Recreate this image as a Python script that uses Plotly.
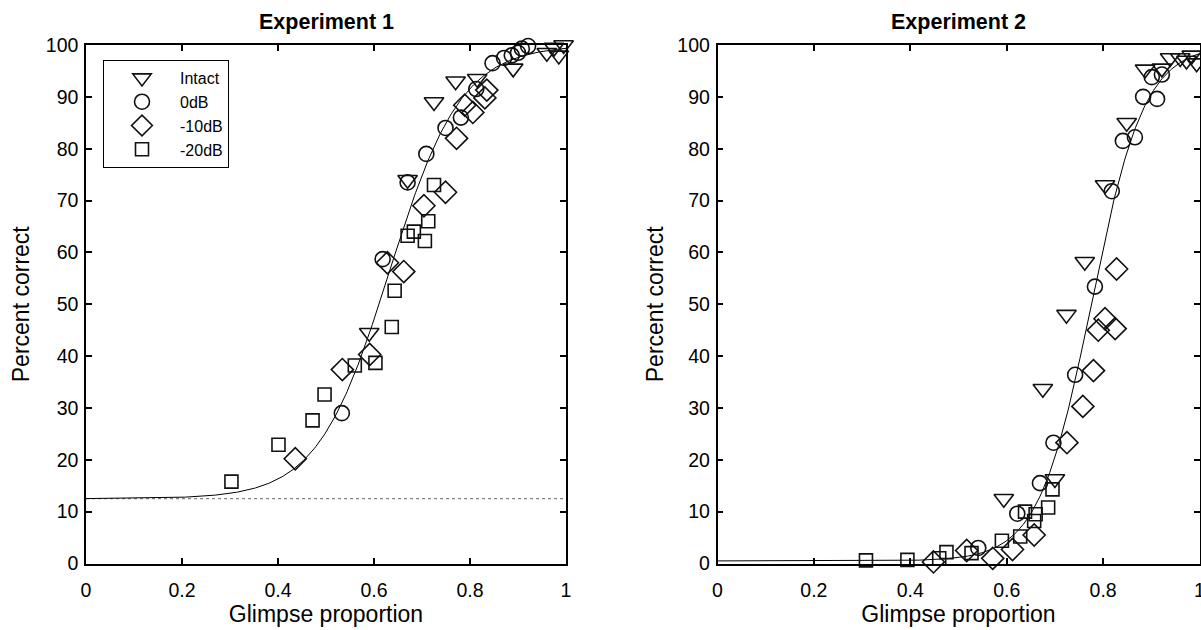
import numpy as np
import plotly.graph_objects as go

# ---------------- data ----------------
# Experiment 1
e1_intact_x = [0.59, 0.67, 0.725, 0.77, 0.815, 0.89, 0.96, 0.975, 0.985, 0.995]
e1_intact_y = [44.5, 74, 89, 93, 93.5, 95.5, 98.5, 99.5, 98, 100]
e1_0db_x = [0.533, 0.618, 0.67, 0.709, 0.749, 0.781, 0.813, 0.847, 0.871, 0.887, 0.9, 0.908, 0.921]
e1_0db_y = [29, 58.7, 73.5, 79, 84, 86, 91.5, 96.5, 97.5, 98, 98.5, 99.3, 99.8]
e1_10db_x = [0.436, 0.534, 0.591, 0.628, 0.662, 0.704, 0.749, 0.772, 0.789, 0.806, 0.831, 0.835]
e1_10db_y = [20.2, 37.4, 40.3, 58, 56.3, 69, 71.6, 82, 88.4, 87, 89.8, 91.3]
e1_20db_x = [0.303, 0.401, 0.472, 0.497, 0.56, 0.603, 0.637, 0.643, 0.67, 0.683, 0.706, 0.713, 0.725]
e1_20db_y = [15.8, 22.9, 27.6, 32.6, 38.2, 38.7, 45.6, 52.6, 63.2, 64, 62.2, 66, 73]

# Experiment 2
e2_intact_x = [0.594, 0.675, 0.70, 0.724, 0.762, 0.804, 0.849, 0.887, 0.922, 0.939, 0.96, 0.973, 0.984, 0.994]
e2_intact_y = [12.5, 33.7, 16.3, 48, 58.2, 73, 85, 95.3, 95.5, 97.5, 97.5, 97, 98, 96.5]
e2_0db_x = [0.541, 0.622, 0.669, 0.697, 0.742, 0.783, 0.818, 0.841, 0.866, 0.883, 0.901, 0.912, 0.922]
e2_0db_y = [3.0, 9.6, 15.5, 23.3, 36.4, 53.4, 71.8, 81.5, 82.2, 90, 93.8, 89.6, 94.3]
e2_10db_x = [0.448, 0.517, 0.571, 0.612, 0.657, 0.725, 0.758, 0.78, 0.79, 0.804, 0.825, 0.828]
e2_10db_y = [0.3, 2.5, 1.0, 2.7, 5.5, 23.3, 30.3, 37.2, 45, 47.2, 45.3, 56.8]
e2_20db_x = [0.308, 0.394, 0.46, 0.475, 0.527, 0.59, 0.628, 0.638, 0.657, 0.66, 0.686, 0.695]
e2_20db_y = [0.6, 0.7, 1.0, 2.2, 2.0, 4.4, 5.2, 10.0, 8.2, 9.5, 10.8, 14.3]

# logistic fit parameters: lower, upper, midpoint, slope
fit1 = [12.5, 100, 0.632, 0.075]
fit2 = [0.5, 100, 0.776, 0.055]
chance1 = 12.5

x_ticks = [0, 0.2, 0.4, 0.6, 0.8, 1]
x_tick_labels = ["0", "0.2", "0.4", "0.6", "0.8", "1"]
y_ticks = [0, 10, 20, 30, 40, 50, 60, 70, 80, 90, 100]

series_names = ["Intact", "0dB", "-10dB", "-20dB"]
symbols = ["triangle-down-open", "circle-open", "diamond-open", "square-open"]
sizes = [17, 15, 17, 13]

W, H = 1201, 630
FONT = "Liberation Sans, Arial, Helvetica, sans-serif"

fig = go.Figure()

def logistic(x, p):
    lo, hi, x0, s = p
    return lo + (hi - lo) / (1 + np.exp(-(x - x0) / s))

xx = np.linspace(0, 1, 400)

fig.add_trace(go.Scatter(x=[0, 1], y=[chance1, chance1], mode="lines",
                         line=dict(color="#666666", width=1, dash="dot"),
                         showlegend=False, hoverinfo="skip", xaxis="x", yaxis="y"))
fig.add_trace(go.Scatter(x=xx, y=logistic(xx, fit1), mode="lines",
                         line=dict(color="black", width=1),
                         showlegend=False, hoverinfo="skip", xaxis="x", yaxis="y"))
fig.add_trace(go.Scatter(x=xx, y=logistic(xx, fit2), mode="lines",
                         line=dict(color="black", width=1),
                         showlegend=False, hoverinfo="skip", xaxis="x2", yaxis="y2"))

e1 = [(e1_intact_x, e1_intact_y), (e1_0db_x, e1_0db_y), (e1_10db_x, e1_10db_y), (e1_20db_x, e1_20db_y)]
e2 = [(e2_intact_x, e2_intact_y), (e2_0db_x, e2_0db_y), (e2_10db_x, e2_10db_y), (e2_20db_x, e2_20db_y)]

for i, (xs, ys) in enumerate(e1):
    fig.add_trace(go.Scatter(x=xs, y=ys, mode="markers", name=series_names[i],
                             marker=dict(symbol=symbols[i], size=sizes[i], color="#111111",
                                         line=dict(width=1.6, color="#111111")),
                             cliponaxis=False, xaxis="x", yaxis="y"))
for i, (xs, ys) in enumerate(e2):
    fig.add_trace(go.Scatter(x=xs, y=ys, mode="markers", name=series_names[i],
                             marker=dict(symbol=symbols[i], size=sizes[i], color="#111111",
                                         line=dict(width=1.6, color="#111111")),
                             cliponaxis=False, showlegend=False, xaxis="x2", yaxis="y2"))

ydom = [1 - 563.5 / H, 1 - 45 / H]
axis_common = dict(showgrid=False, zeroline=False, showline=True, linecolor="black",
                   linewidth=1.5, mirror="ticks", ticks="inside", ticklen=6,
                   tickwidth=1.5, tickcolor="black", automargin=False,
                   ticklabeloverflow="allow",
                   tickfont=dict(family=FONT, size=19.5, color="black"))

fig.update_layout(
    width=W, height=H,
    margin=dict(l=0, r=0, t=0, b=0, autoexpand=False),
    paper_bgcolor="white", plot_bgcolor="white",
    font=dict(family=FONT, color="black"),
    xaxis=dict(domain=[86 / W, 566 / W], range=[0, 1], tickvals=x_ticks,
               ticktext=x_tick_labels, anchor="y", ticklabelstandoff=8,
               title=dict(text="Glimpse proportion", font=dict(size=23), standoff=6),
               **axis_common),
    yaxis=dict(domain=ydom, range=[0, 100], tickvals=y_ticks, anchor="x",
               ticklabelstandoff=2,
               title=dict(text="Percent correct", font=dict(size=23), standoff=10),
               **axis_common),
    xaxis2=dict(domain=[717.5 / W, 1199.5 / W], range=[0, 1], tickvals=x_ticks,
                ticktext=x_tick_labels, anchor="y2", ticklabelstandoff=8,
                title=dict(text="Glimpse proportion", font=dict(size=23), standoff=6),
                **axis_common),
    yaxis2=dict(domain=ydom, range=[0, 100], tickvals=y_ticks, anchor="x2",
                ticklabelstandoff=2,
                title=dict(text="Percent correct", font=dict(size=23), standoff=7),
                **axis_common),
    legend=dict(x=103 / W, y=1 - 60 / H, xanchor="left", yanchor="top",
                bordercolor="black", borderwidth=1, bgcolor="white",
                font=dict(family=FONT, size=16, color="black"),
                tracegroupgap=0, itemwidth=66),
    annotations=[
        dict(text="<b>Experiment 1</b>", x=(86 + 566) / 2 / W, y=1 - 22 / H,
             xref="paper", yref="paper", showarrow=False, yanchor="middle", xanchor="center",
             font=dict(family=FONT, size=21.5, color="black")),
        dict(text="<b>Experiment 2</b>", x=(717.5 + 1199.5) / 2 / W, y=1 - 22 / H,
             xref="paper", yref="paper", showarrow=False, yanchor="middle", xanchor="center",
             font=dict(family=FONT, size=21.5, color="black")),
    ],
)

fig.write_html("out.html", config={"displayModeBar": False},
               post_script="document.body.style.margin='0';document.body.style.overflow='hidden';")
